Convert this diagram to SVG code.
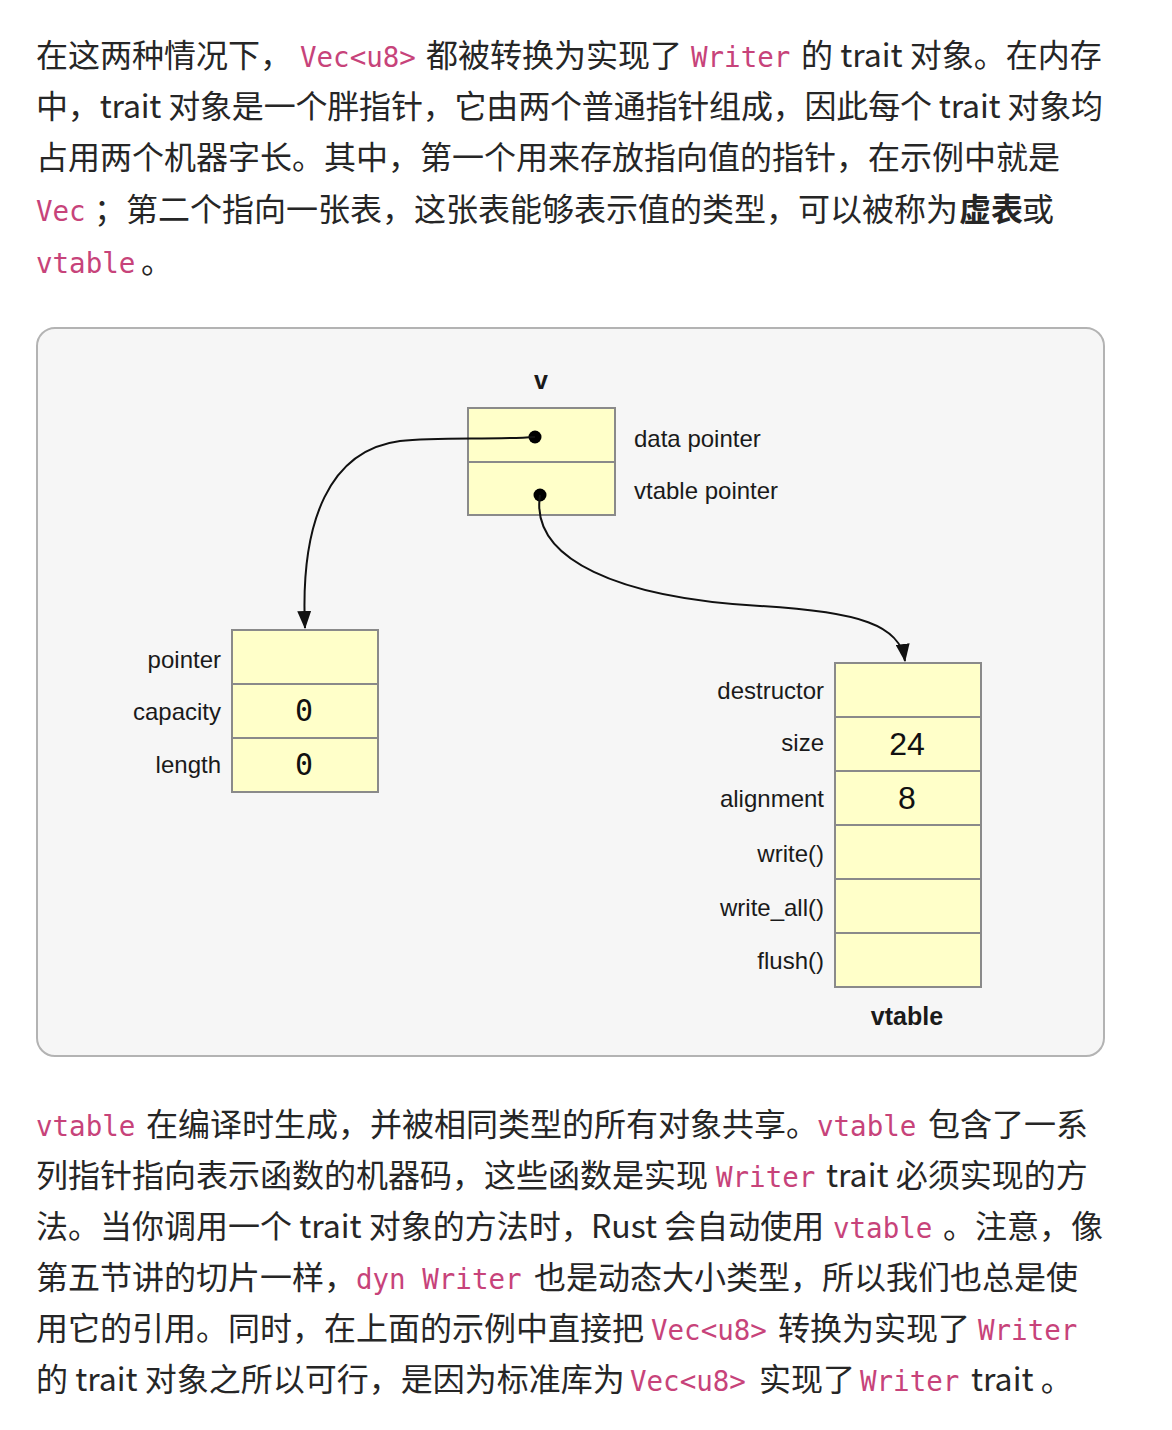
<svg xmlns="http://www.w3.org/2000/svg" width="1172" height="1430" viewBox="0 0 1172 1430">
<style>
.t{font-family:"Noto Sans CJK SC","Noto Sans",sans-serif;font-size:32px;fill:#262626}
.c{font-family:"DejaVu Sans Mono","Liberation Mono",monospace;font-size:27.5px;fill:#c7437a}
.b{font-weight:bold}
.lab{font-family:"Liberation Sans","Noto Sans",sans-serif;font-size:24px;fill:#1a1a1a}
.r{text-anchor:end}
.m{text-anchor:middle}
.cell{fill:#ffffc9;stroke:#8a8a8a;stroke-width:2}
.val{font-family:"DejaVu Sans Mono",monospace;font-size:30px;fill:#111;text-anchor:middle}
.num{font-family:"Liberation Sans",sans-serif;font-size:32px;fill:#111;text-anchor:middle}
.conn{fill:none;stroke:#111;stroke-width:2}
</style>
<defs>
<marker id="ah" markerUnits="userSpaceOnUse" markerWidth="18" markerHeight="14" refX="17" refY="7" orient="auto" viewBox="0 0 18 14">
<path d="M0,0 L18,7 L0,14 Z" fill="#111"/>
</marker>
</defs>
<rect width="1172" height="1430" fill="#ffffff"/>

<g id="para-top">
<text y="67"><tspan class="t" x="36">在这两种情况下，</tspan><tspan class="c" x="300">Vec&lt;u8&gt;</tspan><tspan class="t" x="426">都被转换为实现了</tspan><tspan class="c" x="691">Writer</tspan><tspan class="t" x="801">的 trait 对象。在内存</tspan></text>
<text class="t" x="36" y="118" textLength="1067" lengthAdjust="spacing">中，trait 对象是一个胖指针，它由两个普通指针组成，因此每个 trait 对象均</text>
<text class="t" x="36" y="169">占用两个机器字长。其中，第一个用来存放指向值的指针，在示例中就是</text>
<text y="221"><tspan class="c" x="36">Vec</tspan><tspan class="t" x="94">；第二个指向一张表，这张表能够表示值的类型，可以被称为</tspan><tspan class="t b" x="959">虚表</tspan><tspan class="t" x="1022">或</tspan></text>
<text y="273"><tspan class="c" x="36">vtable</tspan><tspan class="t" x="141">。</tspan></text>
</g>

<g id="panel">
<rect x="37" y="328" width="1067" height="728" rx="18" fill="#f6f6f6" stroke="#b3b3b3" stroke-width="2"/>
</g>

<g id="node-v">
<text class="lab b m" x="541" y="389" style="font-size:25px">v</text>
<rect class="cell" x="468" y="408" width="147" height="54"/>
<rect class="cell" x="468" y="462" width="147" height="53"/>
<text class="lab" x="634" y="447">data pointer</text>
<text class="lab" x="634" y="499">vtable pointer</text>
<circle cx="535" cy="437" r="6.5" fill="#000"/>
<circle cx="540" cy="495" r="6.5" fill="#000"/>
</g>

<g id="node-vec">
<rect class="cell" x="232" y="630" width="146" height="54"/>
<rect class="cell" x="232" y="684" width="146" height="54"/>
<rect class="cell" x="232" y="738" width="146" height="54"/>
<text class="lab r" x="221" y="668">pointer</text>
<text class="lab r" x="221" y="720">capacity</text>
<text class="lab r" x="221" y="773">length</text>
<text class="val" x="304" y="721">0</text>
<text class="val" x="304" y="775">0</text>
</g>

<g id="node-vtable">
<rect class="cell" x="835" y="663" width="146" height="54"/>
<rect class="cell" x="835" y="717" width="146" height="54"/>
<rect class="cell" x="835" y="771" width="146" height="54"/>
<rect class="cell" x="835" y="825" width="146" height="54"/>
<rect class="cell" x="835" y="879" width="146" height="54"/>
<rect class="cell" x="835" y="933" width="146" height="54"/>
<text class="lab r" x="824" y="699">destructor</text>
<text class="lab r" x="824" y="751">size</text>
<text class="lab r" x="824" y="807">alignment</text>
<text class="lab r" x="824" y="862">write()</text>
<text class="lab r" x="824" y="916">write_all()</text>
<text class="lab r" x="824" y="969">flush()</text>
<text class="num" x="907" y="755">24</text>
<text class="num" x="907" y="809">8</text>
<text class="lab b m" x="907" y="1025" style="font-size:25px">vtable</text>
</g>

<g id="connectors">
<path class="conn" marker-end="url(#ah)" d="M535,437 C490,440 440,437 400,441 C330,450 300,520 305,628"/>
<path class="conn" marker-end="url(#ah)" d="M540,495 C530,560 620,598 760,606 C860,612 900,625 905,661"/>
</g>

<g id="para-bottom">
<text y="1136"><tspan class="c" x="36">vtable</tspan><tspan class="t" x="146">在编译时生成，并被相同类型的所有对象共享。</tspan><tspan class="c" x="817">vtable</tspan><tspan class="t" x="928">包含了一系</tspan></text>
<text y="1187"><tspan class="t" x="36">列指针指向表示函数的机器码，这些函数是实现</tspan><tspan class="c" x="716">Writer</tspan><tspan class="t" x="826">trait 必须实现的方</tspan></text>
<text y="1238"><tspan class="t" x="36">法。当你调用一个 trait 对象的方法时，</tspan><tspan class="t" x="591">Rust 会自动使用</tspan><tspan class="c" x="833">vtable</tspan><tspan class="t" x="943">。注意，像</tspan></text>
<text y="1289"><tspan class="t" x="36">第五节讲的切片一样，</tspan><tspan class="c" x="356">dyn Writer</tspan><tspan class="t" x="534">也是动态大小类型，所以我们也总是使</tspan></text>
<text y="1340"><tspan class="t" x="36">用它的引用。同时，在上面的示例中直接把</tspan><tspan class="c" x="651">Vec&lt;u8&gt;</tspan><tspan class="t" x="778">转换为实现了</tspan><tspan class="c" x="978">Writer</tspan></text>
<text y="1391"><tspan class="t" x="36">的 trait 对象之所以可行，是因为标准库为</tspan><tspan class="c" x="630">Vec&lt;u8&gt;</tspan><tspan class="t" x="759">实现了</tspan><tspan class="c" x="860">Writer</tspan><tspan class="t" x="971">trait 。</tspan></text>
</g>
</svg>
